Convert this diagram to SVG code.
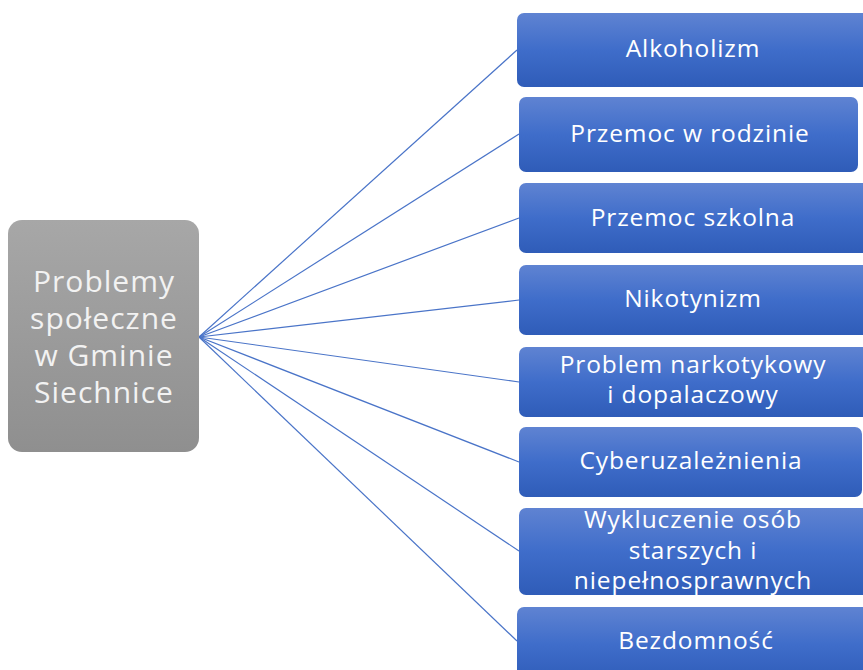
<svg xmlns="http://www.w3.org/2000/svg" width="863" height="670" viewBox="0 0 863 670">
<style>
.blue{fill:url(#gb);}
.gray{fill:url(#gg);}
.t{font-family:"Open Sans","Liberation Sans",sans-serif;fill:#ffffff;text-anchor:middle;font-size:24.5px;letter-spacing:0.9px;}
.tl{font-family:"Open Sans","Liberation Sans",sans-serif;fill:#f2f2f2;text-anchor:middle;font-size:30px;letter-spacing:1px;}
.c{stroke:#4a74c8;stroke-width:1.2;fill:none;}
</style>
<defs>
<linearGradient id="gb" x1="0" y1="0" x2="0" y2="1">
<stop offset="0" stop-color="#5f83d2"/>
<stop offset="0.5" stop-color="#3f6dca"/>
<stop offset="1" stop-color="#2f5cb8"/>
</linearGradient>
<linearGradient id="gg" x1="0" y1="0" x2="0" y2="1">
<stop offset="0" stop-color="#a7a7a7"/>
<stop offset="1" stop-color="#8f8f8f"/>
</linearGradient>
</defs>
<rect width="863" height="670" fill="#ffffff"/>
<g id="connectors">
<line class="c" x1="199" y1="337" x2="517" y2="50"/>
<line class="c" x1="199" y1="337" x2="519" y2="134"/>
<line class="c" x1="199" y1="337" x2="519" y2="218"/>
<line class="c" x1="199" y1="337" x2="519" y2="300"/>
<line class="c" x1="199" y1="337" x2="519" y2="382"/>
<line class="c" x1="199" y1="337" x2="519" y2="462"/>
<line class="c" x1="199" y1="337" x2="519" y2="551"/>
<line class="c" x1="199" y1="337" x2="517" y2="641"/>
</g>
<g id="root">
<rect class="gray" x="8" y="220" width="191" height="232" rx="14"/>
<text class="tl" x="104" y="292">Problemy</text>
<text class="tl" x="104" y="329">społeczne</text>
<text class="tl" x="104" y="366">w Gminie</text>
<text class="tl" x="104" y="403">Siechnice</text>
</g>
<g id="n1">
<rect class="blue" x="517" y="13" width="352" height="74" rx="7"/>
<text class="t" x="693" y="57">Alkoholizm</text>
</g>
<g id="n2">
<rect class="blue" x="519" y="97" width="339" height="75" rx="7"/>
<text class="t" x="690" y="142">Przemoc w rodzinie</text>
</g>
<g id="n3">
<rect class="blue" x="519" y="183" width="350" height="70" rx="7"/>
<text class="t" x="693" y="226">Przemoc szkolna</text>
</g>
<g id="n4">
<rect class="blue" x="519" y="265" width="350" height="70" rx="7"/>
<text class="t" x="693" y="307">Nikotynizm</text>
</g>
<g id="n5">
<rect class="blue" x="519" y="347" width="350" height="70" rx="7"/>
<text class="t" x="693" y="373">Problem narkotykowy</text>
<text class="t" x="693" y="403">i dopalaczowy</text>
</g>
<g id="n6">
<rect class="blue" x="519" y="427" width="343" height="70" rx="7"/>
<text class="t" x="691" y="469">Cyberuzależnienia</text>
</g>
<g id="n7">
<rect class="blue" x="519" y="508" width="350" height="87" rx="7"/>
<text class="t" x="693" y="528">Wykluczenie osób</text>
<text class="t" x="693" y="559">starszych i</text>
<text class="t" x="693" y="589">niepełnosprawnych</text>
</g>
<g id="n8">
<rect class="blue" x="517" y="607" width="352" height="75" rx="7"/>
<text class="t" x="696" y="649">Bezdomność</text>
</g>
</svg>
